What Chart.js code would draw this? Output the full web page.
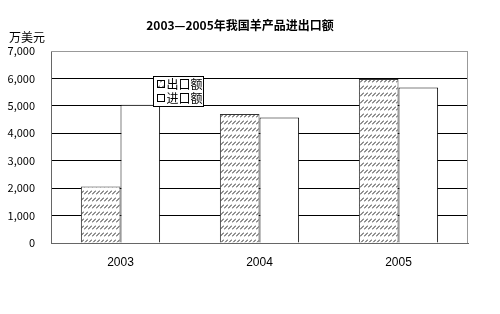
<!DOCTYPE html>
<html>
<head>
<meta charset="utf-8">
<script src="https://cdn.jsdelivr.net/npm/chart.js@4"></script>
<style>
  html, body { margin: 0; padding: 0; background: #fff; }
  #wrap { position: relative; width: 500px; height: 314px; }
</style>
</head>
<body>
<div id="wrap"><canvas id="chart" width="500" height="314"></canvas></div>
<script>
// data (万美元)
const years = ['2003', '2004', '2005'];
const exportValues = [2060, 4700, 5980];
const importValues = [5040, 4580, 5670];
const seriesNames = ['出口额', '进口额'];
const titleText = '2003—2005年我国羊产品进出口额';
const unitText = '万美元';

const cjk = '"Noto Sans CJK SC", "DejaVu Sans", sans-serif';

// hatch pattern like the rows of little slashes
function makeHatch() {
    const tile = document.createElement('canvas');
    tile.width = 4;
    tile.height = 7;
    const t = tile.getContext('2d');
    t.fillStyle = '#fff';
    t.fillRect(0, 0, 4, 7);
    t.strokeStyle = '#222';
    t.lineWidth = 1;
    t.beginPath();
    t.moveTo(0, 5.5);
    t.lineTo(4, 1.5);
    t.stroke();
    return t.createPattern(tile, 'repeat');
}

const canvas = document.getElementById('chart');
const hatch = makeHatch();

// title, unit, plot frame and legend box
const decorations = {
    id: 'decorations',
    afterDraw(chart) {
        const ctx = chart.ctx;
        const area = chart.chartArea;
        ctx.save();

        ctx.fillStyle = '#000';
        ctx.font = 'bold 12px ' + cjk;
        ctx.textAlign = 'center';
        ctx.textBaseline = 'middle';
        ctx.fillText(titleText, 240, 25);

        ctx.font = '12px ' + cjk;
        ctx.textAlign = 'left';
        ctx.fillText(unitText, 9, 37);

        // gray top/right frame
        ctx.strokeStyle = '#999';
        ctx.lineWidth = 1;
        ctx.beginPath();
        ctx.moveTo(area.left, area.top + 0.5);
        ctx.lineTo(area.right - 0.5, area.top + 0.5);
        ctx.lineTo(area.right - 0.5, area.bottom);
        ctx.stroke();

        // legend
        const lx = 153.5, ly = 76.5, lw = 50, lh = 30;
        ctx.fillStyle = '#fff';
        ctx.fillRect(lx, ly, lw, lh);
        ctx.strokeStyle = '#000';
        ctx.strokeRect(lx, ly, lw, lh);
        ctx.font = '12px ' + cjk;
        ctx.textBaseline = 'middle';
        chart.data.datasets.forEach((ds, i) => {
            const cy = ly + 8 + i * 14;
            ctx.fillStyle = ds.backgroundColor;
            ctx.fillRect(lx + 4, cy - 4, 7, 7);
            ctx.strokeStyle = '#000';
            ctx.strokeRect(lx + 4, cy - 4, 7, 7);
            ctx.fillStyle = '#000';
            ctx.fillText(ds.label, lx + 13, cy);
        });
        ctx.restore();
    }
};

new Chart(canvas, {
    type: 'bar',
    data: {
        labels: years,
        datasets: [
            {
                label: seriesNames[0],
                data: exportValues,
                backgroundColor: hatch,
                borderColor: '#333',
                borderWidth: 1
            },
            {
                label: seriesNames[1],
                data: importValues,
                backgroundColor: '#fff',
                borderColor: '#000',
                borderWidth: 1
            }
        ]
    },
    options: {
        responsive: false,
        animation: false,
        devicePixelRatio: 1,
        layout: {
            padding: { top: 51, right: 32, bottom: 47, left: 0 }
        },
        datasets: {
            bar: {
                categoryPercentage: 0.57,
                barPercentage: 1
            }
        },
        plugins: {
            legend: { display: false },
            title: { display: false },
            tooltip: { enabled: false }
        },
        scales: {
            x: {
                grid: { display: false },
                border: { color: '#666' },
                ticks: {
                    color: '#000',
                    padding: 4,
                    font: { family: 'Liberation Sans', size: 12 }
                },
                afterFit(scale) { scale.height = 24; }
            },
            y: {
                min: 0,
                max: 7000,
                grid: {
                    color: ctx => ctx.tick && ctx.tick.value === 7000 ? '#999' : '#000',
                    drawTicks: false
                },
                border: { color: '#666' },
                ticks: {
                    stepSize: 1000,
                    color: '#000',
                    padding: 16,
                    font: { family: cjk, size: 11 },
                    callback: v => v.toLocaleString('en-US')
                },
                afterFit(scale) { scale.width = 51; }
            }
        }
    },
    plugins: [decorations]
});
</script>
</body>
</html>
